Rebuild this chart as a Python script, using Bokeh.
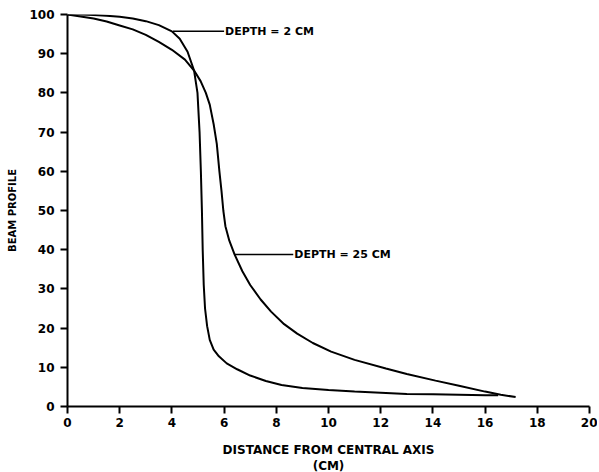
from bokeh.plotting import figure
from bokeh.models import Label, FixedTicker
from bokeh.embed import file_html
from bokeh.resources import INLINE

# depth = 2 cm profile
x_d2 = [0, 0.5, 1, 1.5, 2, 2.5, 3, 3.5, 4, 4.3, 4.6, 4.85, 4.98, 5.06, 5.11, 5.15, 5.18,
        5.22, 5.27, 5.35, 5.45, 5.6, 5.8, 6.1, 6.5, 7, 7.6, 8.2, 9, 10, 11, 12, 13, 14,
        15, 16, 16.5]
y_d2 = [100, 100, 99.9, 99.7, 99.4, 99, 98.3, 97.3, 95.7, 93.8, 90.5, 85.7, 80, 70, 60,
        50, 40, 31, 25, 20.5, 17, 14.5, 12.8, 11, 9.5, 7.9, 6.5, 5.5, 4.7, 4.2, 3.8, 3.5,
        3.2, 3.1, 3.0, 2.9, 2.9]

# depth = 25 cm profile
x_d25 = [0, 0.5, 1, 1.5, 2, 2.5, 3, 3.5, 4, 4.5, 4.85, 5.1, 5.3, 5.45, 5.6, 5.72, 5.82,
         5.9, 5.97, 6.05, 6.2, 6.4, 6.7, 7.0, 7.4, 7.8, 8.3, 8.8, 9.4, 10.1, 11, 12.2, 13,
         14.1, 15, 16, 16.6, 17.17]
y_d25 = [100, 99.5, 99, 98.2, 97.2, 96.2, 94.8, 93, 91, 88.5, 85.7, 83, 80, 77, 72, 67,
         60, 55, 50, 46, 42.3, 38.8, 34.5, 31, 27.3, 24.2, 21.0, 18.6, 16.2, 14.0, 11.9,
         9.7, 8.3, 6.6, 5.3, 3.8, 3.0, 2.4]

x_ticks = [0, 2, 4, 6, 8, 10, 12, 14, 16, 18, 20]
y_ticks = [0, 10, 20, 30, 40, 50, 60, 70, 80, 90, 100]

label_texts = ["DEPTH = 2 CM", "DEPTH = 25 CM"]
leader_x = [[4.04, 6.0], [6.4, 8.65]]
leader_y = [[95.7, 95.7], [38.8, 38.8]]

FONT = "DejaVu Sans"

p = figure(frame_width=522, frame_height=392, x_range=(0, 20), y_range=(0, 100),
           output_backend="svg", toolbar_location=None,
           min_border_left=67, min_border_right=8, min_border_top=14,
           min_border_bottom=64)
p.outline_line_color = None
p.grid.grid_line_color = None

for ax in (p.xaxis[0], p.yaxis[0]):
    ax.axis_line_width = 2
    ax.axis_line_color = "black"
    ax.major_tick_line_width = 2
    ax.major_tick_line_color = "black"
    ax.major_tick_in = 0
    ax.major_tick_out = 7
    ax.minor_tick_line_color = None
    ax.major_label_text_font = FONT
    ax.major_label_text_font_style = "bold"
    ax.major_label_text_font_size = "12px"
    ax.major_label_text_color = "black"
    ax.axis_label_text_font = FONT
    ax.axis_label_text_font_style = "bold"
    ax.axis_label_text_font_size = "12px"
    ax.axis_label_text_color = "black"

p.xaxis.ticker = FixedTicker(ticks=x_ticks)
p.yaxis.ticker = FixedTicker(ticks=y_ticks)
p.xaxis.major_label_standoff = 4
p.yaxis.major_label_standoff = 6
p.xaxis.axis_label = "DISTANCE FROM CENTRAL AXIS\n(CM)"
p.xaxis.axis_label_standoff = 13
p.yaxis.axis_label = "BEAM PROFILE"
p.yaxis.axis_label_text_font_size = "10px"
p.yaxis.axis_label_standoff = 8

p.line(x_d2, y_d2, line_color="black", line_width=2)
p.line(x_d25, y_d25, line_color="black", line_width=2)

for t, lx, ly in zip(label_texts, leader_x, leader_y):
    p.line(lx, ly, line_color="black", line_width=1.5)
    p.add_layout(Label(x=lx[1], y=ly[1], text=t, text_font=FONT,
                       text_font_style="bold", text_font_size="11px",
                       text_baseline="middle", text_align="left",
                       x_offset=1, text_color="black"))

open("out.html", "w").write(file_html(p, INLINE))
